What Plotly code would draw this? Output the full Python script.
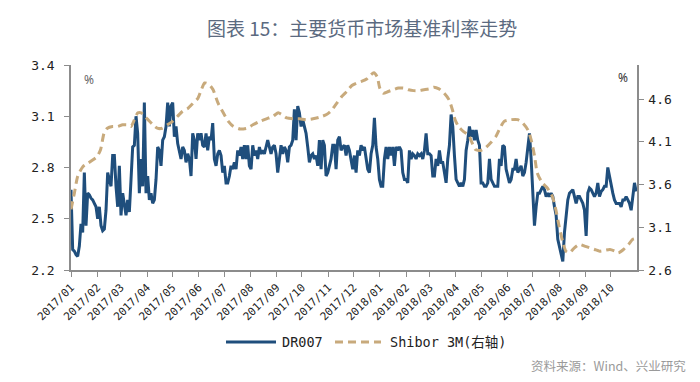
import pandas as pd
import plotly.graph_objects as go

# ---------------- data ----------------
DR007_START = "2017-01-01"
DR007_END = "2018-10-31"
DR007_VALUES = [
    2.67, 2.32, 2.31, 2.29, 2.28, 2.34, 2.47, 2.42, 2.77, 2.46, 2.65, 2.64, 2.62, 2.61, 2.59, 2.57,
    2.50, 2.57, 2.46, 2.43, 2.44, 2.55, 2.77, 2.73, 2.69, 2.87, 2.87, 2.69, 2.57, 2.81, 2.52, 2.65,
    2.57, 2.52, 2.61, 2.54, 2.73, 2.92, 2.93, 3.10, 3.00, 2.65, 2.85, 2.69, 3.18, 2.65, 2.75, 2.61,
    2.65, 2.59, 2.61, 2.73, 2.92, 2.90, 2.81, 2.96, 2.98, 3.04, 3.18, 3.04, 3.16, 3.18, 2.98, 3.04,
    2.94, 2.90, 2.85, 2.92, 2.90, 2.83, 2.88, 2.85, 2.75, 3.00, 2.96, 2.85, 3.00, 2.96, 3.00, 2.93,
    2.92, 3.00, 2.90, 2.98, 2.96, 3.06,
    2.85, 2.81, 2.88, 2.90, 2.87, 2.77, 2.81, 2.71, 2.71, 2.75, 2.81, 2.79, 2.83, 2.79, 2.90, 2.87,
    2.92, 2.85, 2.93, 2.85, 2.93, 2.81, 2.79, 2.93, 2.87, 2.90, 2.85, 2.92, 2.88, 2.90, 2.88, 2.92,
    2.96, 2.92, 2.88, 2.92, 2.93, 2.88, 2.77, 2.85, 2.93, 2.88, 2.92, 2.90, 2.83, 2.92, 2.93, 2.96,
    3.14, 2.96, 3.16, 3.12, 3.04, 3.08, 3.04, 3.00, 2.92, 2.83, 2.87, 2.88, 2.85, 2.87, 2.81, 2.96,
    2.79, 2.96, 2.93, 2.75, 2.77, 2.81, 2.85, 2.93, 2.93, 2.79, 2.96, 2.98, 2.90, 2.92, 2.93, 2.87,
    2.93, 2.90, 2.85, 2.79, 2.87,
    2.77, 2.90, 2.87, 2.93, 2.90, 2.92, 2.85, 2.79, 2.77, 2.88, 2.93, 3.09, 2.92, 2.85, 2.73, 2.69,
    2.69, 2.85, 2.92, 2.85, 2.92, 2.87, 2.92, 2.81, 2.92, 2.90, 2.92, 2.90, 2.77, 2.73, 2.73, 2.71,
    2.90, 2.85, 2.88, 2.87, 2.85, 2.88, 2.87, 2.88, 2.85, 2.90, 3.00, 2.88, 2.88, 2.87, 2.75, 2.75,
    2.85, 2.81, 2.90, 2.83, 2.83, 2.77, 2.71, 2.85, 2.93, 3.11, 3.04, 2.87, 2.73, 2.71, 2.69, 2.71,
    2.69, 2.73, 2.90, 2.96, 3.04, 2.98, 3.02, 2.96, 3.02, 2.96, 2.93, 2.71, 2.71, 2.69, 2.69, 2.71,
    2.85, 2.73, 2.71, 2.69,
    2.69, 2.69, 2.85, 2.81, 2.93, 2.92, 2.79, 2.75, 2.71, 2.73, 2.79, 2.79, 2.85, 2.77, 2.79, 2.81,
    2.75, 2.77, 2.83, 2.92, 3.00, 2.85, 2.65, 2.46, 2.57, 2.65, 2.65, 2.67, 2.69, 2.67, 2.63, 2.65,
    2.63, 2.65, 2.63, 2.57, 2.52, 2.38, 2.34, 2.30, 2.25, 2.42, 2.50, 2.61, 2.65, 2.66, 2.67, 2.63,
    2.59, 2.63, 2.63, 2.61, 2.59, 2.55, 2.40, 2.65, 2.68, 2.67, 2.65, 2.63, 2.65, 2.71, 2.63, 2.66,
    2.67, 2.69, 2.69, 2.80, 2.75, 2.69, 2.65, 2.61, 2.59, 2.59, 2.59, 2.57, 2.61, 2.61, 2.63, 2.61,
    2.59, 2.55, 2.63, 2.71, 2.66,
]

SHIBOR_DATES = [
    "2017-01-01", "2017-01-05", "2017-01-09", "2017-01-15", "2017-01-21", "2017-01-27", "2017-02-01",
    "2017-02-05", "2017-02-09", "2017-02-13", "2017-02-19", "2017-02-25", "2017-03-03", "2017-03-09",
    "2017-03-13", "2017-03-17", "2017-03-21", "2017-03-25", "2017-03-29", "2017-04-02", "2017-04-08",
    "2017-04-13", "2017-04-19", "2017-04-25", "2017-05-01", "2017-05-07", "2017-05-13", "2017-05-19",
    "2017-05-25", "2017-05-31", "2017-06-04", "2017-06-08", "2017-06-12", "2017-06-16", "2017-06-18",
    "2017-06-24", "2017-06-30", "2017-07-06", "2017-07-12", "2017-07-20", "2017-07-28", "2017-08-04",
    "2017-08-12", "2017-08-20", "2017-08-28", "2017-09-03", "2017-09-07", "2017-09-13", "2017-09-21",
    "2017-09-28", "2017-10-06", "2017-10-14", "2017-10-22", "2017-10-30", "2017-11-05", "2017-11-11",
    "2017-11-17", "2017-11-23", "2017-11-29", "2017-12-05", "2017-12-11", "2017-12-17", "2017-12-21",
    "2017-12-25", "2017-12-29", "2018-01-01", "2018-01-05", "2018-01-11", "2018-01-17", "2018-01-23",
    "2018-01-29", "2018-02-04", "2018-02-10", "2018-02-16", "2018-02-22", "2018-02-28", "2018-03-06",
    "2018-03-12", "2018-03-18", "2018-03-24", "2018-03-28", "2018-03-31", "2018-04-04", "2018-04-10",
    "2018-04-16", "2018-04-20", "2018-04-24", "2018-04-30", "2018-05-06", "2018-05-12", "2018-05-18",
    "2018-05-22", "2018-05-28", "2018-06-05", "2018-06-13", "2018-06-19", "2018-06-25", "2018-06-29",
    "2018-07-03", "2018-07-06", "2018-07-12", "2018-07-18", "2018-07-24", "2018-07-28", "2018-08-01",
    "2018-08-05", "2018-08-09", "2018-08-13", "2018-08-19", "2018-08-25", "2018-08-31", "2018-09-06",
    "2018-09-12", "2018-09-18", "2018-09-24", "2018-09-30", "2018-10-06", "2018-10-10", "2018-10-16",
    "2018-10-22", "2018-10-27", "2018-10-31",
]
SHIBOR_VALUES = [
    3.31, 3.50, 3.70, 3.81, 3.85, 3.89, 3.93,
    4.01, 4.20, 4.26, 4.28, 4.28, 4.30, 4.30,
    4.28, 4.36, 4.44, 4.44, 4.40, 4.36, 4.30,
    4.26, 4.26, 4.30, 4.34, 4.40, 4.46, 4.49,
    4.55, 4.61, 4.71, 4.79, 4.78, 4.74, 4.71,
    4.55, 4.44, 4.34, 4.28, 4.25, 4.26, 4.30,
    4.34, 4.37, 4.40, 4.44, 4.42, 4.38, 4.37,
    4.37, 4.36, 4.37, 4.39, 4.42, 4.47, 4.55,
    4.63, 4.69, 4.76, 4.79, 4.81, 4.84, 4.88,
    4.91, 4.86, 4.73, 4.67, 4.69, 4.71, 4.73,
    4.73, 4.71, 4.70, 4.70, 4.71, 4.72, 4.74,
    4.72, 4.67, 4.59, 4.47, 4.36, 4.28, 4.22,
    4.18, 4.09, 4.01, 4.00, 4.03, 4.09, 4.16,
    4.24, 4.34, 4.36, 4.36, 4.32, 4.24, 4.12,
    3.93, 3.74, 3.62, 3.56, 3.46, 3.31, 3.11,
    2.94, 2.82, 2.80, 2.86, 2.90, 2.88, 2.86,
    2.84, 2.82, 2.83, 2.84, 2.82, 2.80, 2.84,
    2.90, 2.96, 2.97,
]

MONTH_LABELS = [
    "2017/01", "2017/02", "2017/03", "2017/04", "2017/05", "2017/06", "2017/07", "2017/08",
    "2017/09", "2017/10", "2017/11", "2017/12", "2018/01", "2018/02", "2018/03", "2018/04",
    "2018/05", "2018/06", "2018/07", "2018/08", "2018/09", "2018/10",
]
LEFT_TICKS = [2.2, 2.5, 2.8, 3.1, 3.4]
RIGHT_TICKS = [2.6, 3.1, 3.6, 4.1, 4.6]

SERIES_NAMES = ["DR007", "Shibor 3M(右轴)"]
TITLE = "图表 15：主要货币市场基准利率走势"
SOURCE = "资料来源：Wind、兴业研究"

# ---------------- layout geometry ----------------
# The page body has an 8px default margin, so the figure is drawn 8px smaller
# and all window positions below are given in window pixels.
PAGE_OFF = 8
W, H = 700 - PAGE_OFF, 382 - PAGE_OFF
PLOT_L, PLOT_R, PLOT_T, PLOT_B = 71, 637, 65, 270   # window pixels
ML = PLOT_L - PAGE_OFF
MR = W - (PLOT_R - PAGE_OFF)
MT = PLOT_T - PAGE_OFF
MB = H - (PLOT_B - PAGE_OFF)
plot_w = PLOT_R - PLOT_L
plot_h = PLOT_B - PLOT_T


def px_x(x):
    return (x - PLOT_L) / plot_w


def px_y(y):
    return (PLOT_B - y) / plot_h


dr_dates = pd.date_range(DR007_START, DR007_END, periods=len(DR007_VALUES))
month_vals = [lbl.replace("/", "-") + "-01" for lbl in MONTH_LABELS]

MONO = "DejaVu Sans Mono, Noto Sans CJK SC, monospace"
AXIS_GRAY = "#8c8c8c"
DR_COLOR = "#1f4e7c"
SH_COLOR = "#c8aa7c"
SH_DASH = "8px,5px"

fig = go.Figure()
fig.add_trace(go.Scatter(
    x=dr_dates, y=DR007_VALUES, name=SERIES_NAMES[0], mode="lines",
    line=dict(color=DR_COLOR, width=3), yaxis="y",
))
fig.add_trace(go.Scatter(
    x=pd.to_datetime(SHIBOR_DATES), y=SHIBOR_VALUES, name=SERIES_NAMES[1], mode="lines",
    line=dict(color=SH_COLOR, width=3, dash=SH_DASH, shape="spline", smoothing=0.6),
    yaxis="y2",
))

# legend drawn by hand for exact placement
LEG_Y = 342
legend_shapes = [
    dict(type="line", xref="paper", yref="paper", x0=px_x(226), x1=px_x(276),
         y0=px_y(LEG_Y), y1=px_y(LEG_Y), line=dict(color=DR_COLOR, width=3)),
    dict(type="line", xref="paper", yref="paper", x0=px_x(335), x1=px_x(381),
         y0=px_y(LEG_Y), y1=px_y(LEG_Y), line=dict(color=SH_COLOR, width=3, dash=SH_DASH)),
]
legend_texts = [
    dict(text=SERIES_NAMES[0], x=px_x(280), y=px_y(LEG_Y), xref="paper", yref="paper",
         showarrow=False, xanchor="left", yanchor="middle",
         font=dict(family=MONO, size=13.5, color="#222222")),
    dict(text=SERIES_NAMES[1], x=px_x(388), y=px_y(LEG_Y), xref="paper", yref="paper",
         showarrow=False, xanchor="left", yanchor="middle",
         font=dict(family=MONO, size=13.5, color="#222222")),
]

fig.update_layout(
    width=W, height=H,
    margin=dict(l=ML, r=MR, t=MT, b=MB, autoexpand=False),
    paper_bgcolor="white", plot_bgcolor="white",
    showlegend=False,
    xaxis=dict(
        type="date", range=["2017-01-01", "2018-11-01"],
        tickvals=month_vals, ticktext=MONTH_LABELS, tickangle=-45,
        showgrid=False, zeroline=False,
        showline=True, linecolor=AXIS_GRAY, linewidth=1.5,
        ticks="outside", ticklen=5, tickcolor=AXIS_GRAY,
        tickfont=dict(family=MONO, size=11, color="#222222"),
    ),
    yaxis=dict(
        range=[2.2, 3.4], tickvals=LEFT_TICKS, tickformat=".1f",
        showgrid=False, zeroline=False,
        showline=True, linecolor=AXIS_GRAY, linewidth=1.5,
        ticks="outside", ticklen=5, tickcolor=AXIS_GRAY, ticklabelstandoff=7,
        tickfont=dict(family=MONO, size=13, color="#222222"),
    ),
    yaxis2=dict(
        range=[2.6, 5.0], tickvals=RIGHT_TICKS, tickformat=".1f",
        overlaying="y", side="right",
        showgrid=False, zeroline=False,
        showline=True, linecolor=AXIS_GRAY, linewidth=1.5,
        ticks="outside", ticklen=5, tickcolor=AXIS_GRAY, ticklabelstandoff=2,
        tickfont=dict(family=MONO, size=13, color="#222222"),
    ),
    shapes=legend_shapes,
    annotations=[
        dict(text=TITLE, x=px_x(362), y=px_y(27), xref="paper", yref="paper", showarrow=False,
             yanchor="middle", font=dict(family="Noto Sans CJK SC", size=19, color="#5b6a80")),
        dict(text="%", x=px_x(82), y=px_y(80), xref="paper", yref="paper", showarrow=False,
             xanchor="left", yanchor="middle", font=dict(family="Noto Sans", size=12, color="#666666")),
        dict(text="%", x=px_x(630), y=px_y(78), xref="paper", yref="paper", showarrow=False,
             xanchor="right", yanchor="middle", font=dict(family="Noto Sans", size=12, color="#333333")),
        dict(text=SOURCE, x=px_x(688), y=px_y(365), xref="paper", yref="paper", showarrow=False,
             xanchor="right", yanchor="middle",
             font=dict(family="Noto Sans CJK SC", size=12.5, color="#9a9a9a")),
    ] + legend_texts,
)

fig.write_html("out.html")
